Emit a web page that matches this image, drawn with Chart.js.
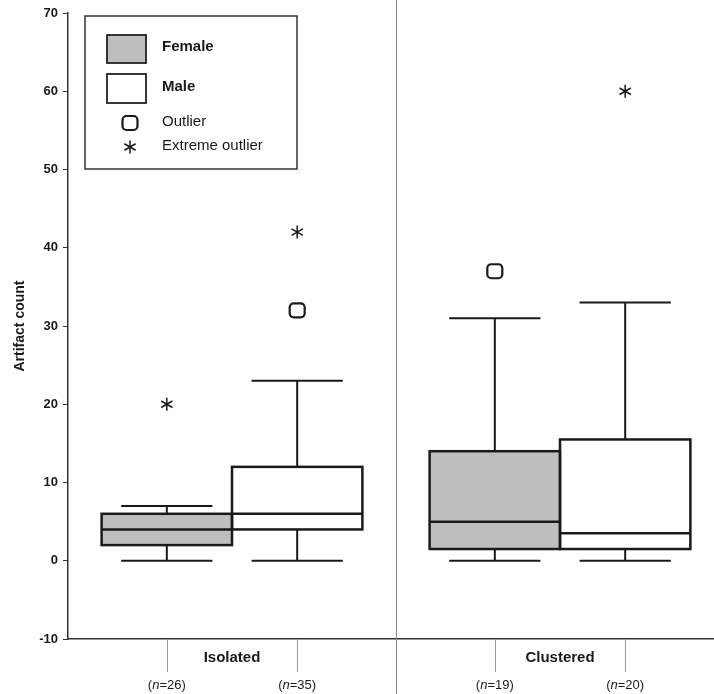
<!DOCTYPE html>
<html>
<head>
<meta charset="utf-8">
<script src="https://cdn.jsdelivr.net/npm/chart.js@4/dist/chart.umd.min.js"></script>
<style>
  html, body { margin: 0; padding: 0; background: #ffffff; overflow: hidden; }
  #wrap { width: 724px; height: 694px; }
</style>
</head>
<body>
<div id="wrap"><canvas id="c" width="724" height="694"></canvas></div>
<script>
// Site groups along the x axis
const groups = ['Isolated', 'Clustered'];

// Female box-plot summaries per group
const femaleMin = [0, 0];
const femaleQ1 = [2, 1.5];
const femaleMedian = [4, 5];
const femaleQ3 = [6, 14];
const femaleMax = [7, 31];
const femaleOutliers = [[], [37]];
const femaleExtremes = [[20], []];
const femaleN = [26, 19];

// Male box-plot summaries per group
const maleMin = [0, 0];
const maleQ1 = [4, 1.5];
const maleMedian = [6, 3.5];
const maleQ3 = [12, 15.5];
const maleMax = [23, 33];
const maleOutliers = [[32], []];
const maleExtremes = [[42], [60]];
const maleN = [35, 20];

// Y axis ticks
const yTicks = [-10, 0, 10, 20, 30, 40, 50, 60, 70];

const FONT = '"Liberation Sans", Arial, Helvetica, sans-serif';
const INK = '#1a1a1a';
const FEMALE_FILL = '#bebebe';

const summaries = [
  { min: femaleMin, med: femaleMedian, max: femaleMax, out: femaleOutliers, ext: femaleExtremes, n: femaleN },
  { min: maleMin, med: maleMedian, max: maleMax, out: maleOutliers, ext: maleExtremes, n: maleN }
];

function drawOutlier(ctx, x, y) {
  const s = 7.5, r = 4;
  ctx.save();
  ctx.lineWidth = 2.2;
  ctx.strokeStyle = INK;
  ctx.beginPath();
  ctx.roundRect(x - s, y - s + 0.5, 2 * s, 2 * s - 1, r);
  ctx.stroke();
  ctx.restore();
}

function drawAsterisk(ctx, x, y) {
  const r = 6.5;
  ctx.save();
  ctx.lineWidth = 1.5;
  ctx.strokeStyle = INK;
  ctx.beginPath();
  for (let k = 0; k < 3; k++) {
    const a = Math.PI / 2 + k * Math.PI / 3;
    ctx.moveTo(x - r * Math.cos(a), y - r * Math.sin(a));
    ctx.lineTo(x + r * Math.cos(a), y + r * Math.sin(a));
  }
  ctx.stroke();
  ctx.restore();
}

// Box outlines, whiskers, medians, outliers, category labels, divider and legend
const boxPlotParts = {
  id: 'boxPlotParts',
  afterDatasetsDraw(chart) {
    const ctx = chart.ctx;
    const yS = chart.scales.y;
    const xS = chart.scales.x;
    const area = chart.chartArea;

    // divider between the two groups
    ctx.save();
    const xd = Math.round(xS.getPixelForValue(0.5)) + 0.5;
    ctx.strokeStyle = '#8a8a8a';
    ctx.lineWidth = 1;
    ctx.beginPath();
    ctx.moveTo(xd, 0);
    ctx.lineTo(xd, chart.height);
    ctx.stroke();
    ctx.restore();

    summaries.forEach((s, d) => {
      const meta = chart.getDatasetMeta(d);
      meta.data.forEach((bar, i) => {
        const bp = bar.getProps(['x', 'y', 'base', 'width'], true);
        const x = bp.x;
        const w = bp.width;
        const left = x - w / 2, right = x + w / 2;
        const cap = w * 0.35;
        const yTop = Math.min(bp.y, bp.base);
        const yBot = Math.max(bp.y, bp.base);
        ctx.save();
        ctx.strokeStyle = INK;
        ctx.lineWidth = 2.5;
        ctx.strokeRect(left, yTop, w, yBot - yTop);
        ctx.lineWidth = 2;
        ctx.beginPath();
        // upper whisker
        const yMax = yS.getPixelForValue(s.max[i]);
        ctx.moveTo(x, yTop);
        ctx.lineTo(x, yMax);
        ctx.moveTo(x - cap, yMax);
        ctx.lineTo(x + cap, yMax);
        // lower whisker
        const yMin = yS.getPixelForValue(s.min[i]);
        ctx.moveTo(x, yBot);
        ctx.lineTo(x, yMin);
        ctx.moveTo(x - cap, yMin);
        ctx.lineTo(x + cap, yMin);
        ctx.stroke();
        // median
        ctx.lineWidth = 2.5;
        ctx.beginPath();
        const yMed = yS.getPixelForValue(s.med[i]);
        ctx.moveTo(left, yMed);
        ctx.lineTo(right, yMed);
        ctx.stroke();
        ctx.restore();

        s.out[i].forEach(v => drawOutlier(ctx, x, yS.getPixelForValue(v)));
        s.ext[i].forEach(v => drawAsterisk(ctx, x, yS.getPixelForValue(v)));

        // tick under each box and sample size
        ctx.save();
        ctx.strokeStyle = '#9a9a9a';
        ctx.lineWidth = 1;
        ctx.beginPath();
        ctx.moveTo(Math.round(x) + 0.5, area.bottom);
        ctx.lineTo(Math.round(x) + 0.5, area.bottom + 33);
        ctx.stroke();
        ctx.fillStyle = INK;
        ctx.textBaseline = 'middle';
        const y0 = area.bottom + 46;
        const pieces = [
          { t: '(', f: '13px ' + FONT },
          { t: 'n', f: 'italic 13px ' + FONT },
          { t: '=' + s.n[i] + ')', f: '13px ' + FONT }
        ];
        let total = 0;
        pieces.forEach(p => { ctx.font = p.f; total += ctx.measureText(p.t).width; });
        let cx = x - total / 2;
        ctx.textAlign = 'left';
        pieces.forEach(p => { ctx.font = p.f; ctx.fillText(p.t, cx, y0); cx += ctx.measureText(p.t).width; });
        ctx.restore();
      });
    });

    // group names
    ctx.save();
    ctx.fillStyle = INK;
    ctx.font = 'bold 15px ' + FONT;
    ctx.textAlign = 'center';
    ctx.textBaseline = 'middle';
    groups.forEach((g, i) => {
      ctx.fillText(g, xS.getPixelForValue(i), area.bottom + 19);
    });
    ctx.restore();

    // legend
    const lx = area.left + 17, ly = area.top + 3;
    ctx.save();
    ctx.fillStyle = '#ffffff';
    ctx.fillRect(lx, ly, 212, 153);
    ctx.strokeStyle = '#333333';
    ctx.lineWidth = 1.5;
    ctx.strokeRect(lx, ly, 212, 153);
    // swatches
    ctx.lineWidth = 1.8;
    ctx.fillStyle = FEMALE_FILL;
    ctx.fillRect(lx + 22, ly + 19, 39, 28);
    ctx.strokeStyle = '#222222';
    ctx.strokeRect(lx + 22, ly + 19, 39, 28);
    ctx.fillStyle = '#ffffff';
    ctx.fillRect(lx + 22, ly + 58, 39, 29);
    ctx.strokeRect(lx + 22, ly + 58, 39, 29);
    ctx.fillStyle = INK;
    ctx.textAlign = 'left';
    ctx.textBaseline = 'middle';
    ctx.font = 'bold 15px ' + FONT;
    ctx.fillText('Female', lx + 77, ly + 31);
    ctx.fillText('Male', lx + 77, ly + 71);
    ctx.font = '15px ' + FONT;
    ctx.fillText('Outlier', lx + 77, ly + 106);
    ctx.fillText('Extreme outlier', lx + 77, ly + 130);
    ctx.restore();
    drawOutlier(ctx, lx + 45, ly + 107);
    drawAsterisk(ctx, lx + 45, ly + 131);
  }
};

new Chart(document.getElementById('c'), {
  type: 'bar',
  data: {
    labels: groups,
    datasets: [
      {
        label: 'Female',
        data: femaleQ1.map((q, i) => [q, femaleQ3[i]]),
        backgroundColor: FEMALE_FILL,
        borderWidth: 0,
        inflateAmount: 0,
        categoryPercentage: 0.795,
        barPercentage: 1
      },
      {
        label: 'Male',
        data: maleQ1.map((q, i) => [q, maleQ3[i]]),
        backgroundColor: '#ffffff',
        borderWidth: 0,
        inflateAmount: 0,
        categoryPercentage: 0.795,
        barPercentage: 1
      }
    ]
  },
  options: {
    responsive: false,
    animation: false,
    events: [],
    layout: { padding: { top: 13, right: 0, bottom: 0, left: 0 } },
    plugins: {
      legend: { display: false },
      tooltip: { enabled: false },
      title: { display: false }
    },
    scales: {
      x: {
        type: 'category',
        offset: true,
        grid: { display: false },
        border: { display: true, color: '#333333', width: 1.5 },
        ticks: { display: false },
        afterFit(scale) { scale.height = 55; }
      },
      y: {
        min: -10,
        max: 70,
        afterBuildTicks(scale) { scale.ticks = yTicks.map(v => ({ value: v })); },
        grid: { display: true, drawOnChartArea: false, drawTicks: true, tickLength: 5, color: '#333333', lineWidth: 1 },
        border: { display: true, color: '#333333', width: 1.5 },
        ticks: {
          color: INK,
          font: { family: FONT, size: 13, weight: 'bold' },
          padding: 5
        },
        title: {
          display: true,
          text: 'Artifact count',
          color: INK,
          font: { family: FONT, size: 14, weight: 'bold' },
          padding: { top: 12, bottom: 0 }
        },
        afterFit(scale) { scale.width = 68; }
      }
    }
  },
  plugins: [boxPlotParts]
});
</script>
</body>
</html>
